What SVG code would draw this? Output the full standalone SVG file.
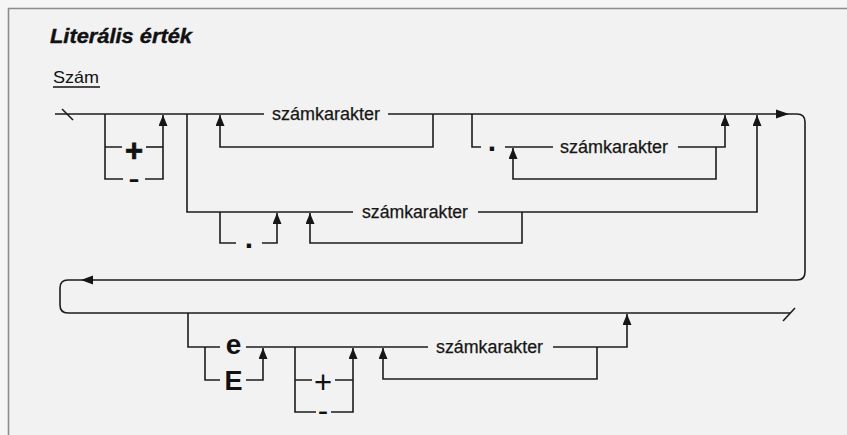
<svg xmlns="http://www.w3.org/2000/svg" width="847" height="435" viewBox="0 0 847 435">
  <defs>
    <marker id="head" viewBox="0 0 11 9" refX="11" refY="4.5" markerWidth="11" markerHeight="9" markerUnits="userSpaceOnUse" orient="auto">
      <path d="M0,0 L11,4.5 L0,9 z" fill="#161616"/>
    </marker>
    <style>
      .ln { fill: none; stroke: #1c1c1c; stroke-width: 1.6; }
      .ar { fill: none; stroke: #1c1c1c; stroke-width: 1.6; marker-end: url(#head); }
      .ah { fill: #161616; }
      .frame { fill: none; stroke: #8c8c8c; stroke-width: 1.6; }
      .nt { font-family: "Liberation Sans", Arial, sans-serif; font-size: 17.5px; fill: #161616; stroke: #161616; stroke-width: 0.25; }
      .sym { font-family: "Liberation Sans", Arial, sans-serif; font-weight: bold; fill: #111; text-anchor: middle; }
      .thin { font-weight: normal; }
      .fat { stroke: #111; stroke-width: 0.7; }
      .ttl { font-family: "Liberation Sans", Arial, sans-serif; font-weight: bold; font-style: italic; font-size: 20px; fill: #111; stroke: #111; stroke-width: 0.4; }
      .sub { font-family: "Liberation Sans", Arial, sans-serif; font-size: 16.5px; fill: #111; }
    </style>
  </defs>

  <!-- page and frame -->
  <rect x="0" y="0" width="847" height="435" fill="#f5f5f5"/>
  <rect x="8" y="8" width="839" height="427" fill="#f2f2f2"/>
  <path class="frame" d="M8.5,435 V8.5 H847"/>

  <!-- headings -->
  <text class="ttl" x="50" y="43" textLength="142" lengthAdjust="spacingAndGlyphs">Literális érték</text>
  <text class="sub" x="53" y="83" textLength="46" lengthAdjust="spacingAndGlyphs">Szám</text>
  <line x1="53" y1="87" x2="100" y2="87" stroke="#111" stroke-width="1.3"/>

  <!-- connectors -->
  <g id="connectors">
    <!-- start tick and main track with the wrap-around -->
    <line class="ln" x1="62" y1="109" x2="73" y2="120"/>
    <path class="ln" d="M55,114 H264 M388,114 H797 Q805,114 805,122 V272 Q805,280 797,280 H68 Q60,280 60,288 V305 Q60,313 68,313 H790"/>
    <line class="ln" x1="783" y1="321" x2="795" y2="308"/>
    <polygon class="ah" points="776,109.5 789,114 776,118.5"/>
    <polygon class="ah" points="81,280 93,275.5 93,284.5"/>

    <!-- optional sign: + or - -->
    <path class="ln" d="M105,114 V179 H123 M105,147 H122"/>
    <path class="ln" d="M146,147 H163"/>
    <path class="ar" d="M145,179 H163 V115"/>

    <!-- integer part loop -->
    <path class="ar" d="M433,114 V147 H220 V115"/>

    <!-- optional fraction -->
    <path class="ln" d="M472,114 V147 H481 M505,147 H553"/>
    <path class="ar" d="M678,147 H725 V115"/>
    <path class="ar" d="M716,147 V179 H513 V148"/>

    <!-- fraction-only alternative -->
    <path class="ln" d="M187,114 V212 H353"/>
    <path class="ar" d="M478,212 H757 V115"/>
    <path class="ln" d="M220,212 V243 H236"/>
    <path class="ar" d="M262,243 H277 V213"/>
    <path class="ar" d="M522,212 V243 H310 V213"/>

    <!-- exponent -->
    <path class="ln" d="M188,313 V347 H220 M246,347 H428"/>
    <path class="ar" d="M553,347 H627 V314"/>
    <path class="ln" d="M205,347 V380 H220"/>
    <path class="ar" d="M246,380 H263 V348"/>
    <path class="ln" d="M295,347 V412 H316 M295,380 H312 M335,380 H353"/>
    <path class="ar" d="M331,412 H353 V348"/>
    <path class="ar" d="M597,347 V379 H383 V348"/>
  </g>

  <!-- terminals and non-terminals -->
  <g id="sign1-plus"><text class="sym fat" x="134" y="160.5" font-size="31">+</text></g>
  <g id="sign1-minus"><text class="sym" x="134" y="186" font-size="22" textLength="11" lengthAdjust="spacingAndGlyphs">-</text></g>
  <g id="digits1"><text class="nt" x="272" y="119.5" textLength="108" lengthAdjust="spacingAndGlyphs">számkarakter</text></g>
  <g id="point1"><text class="sym" x="492" y="151" font-size="30">.</text></g>
  <g id="digits2"><text class="nt" x="560" y="153" textLength="108" lengthAdjust="spacingAndGlyphs">számkarakter</text></g>
  <g id="point2"><text class="sym" x="249" y="248" font-size="30">.</text></g>
  <g id="digits3"><text class="nt" x="362" y="217.5" textLength="106" lengthAdjust="spacingAndGlyphs">számkarakter</text></g>
  <g id="exp-lower"><text class="sym" x="233.5" y="354" font-size="28">e</text></g>
  <g id="exp-upper"><text class="sym" x="233.5" y="390" font-size="27">E</text></g>
  <g id="sign2-plus"><text class="sym thin" x="323" y="393" font-size="31">+</text></g>
  <g id="sign2-minus"><text class="sym" x="323" y="418" font-size="20" textLength="10" lengthAdjust="spacingAndGlyphs">-</text></g>
  <g id="digits4"><text class="nt" x="436" y="352.5" textLength="107" lengthAdjust="spacingAndGlyphs">számkarakter</text></g>
</svg>
